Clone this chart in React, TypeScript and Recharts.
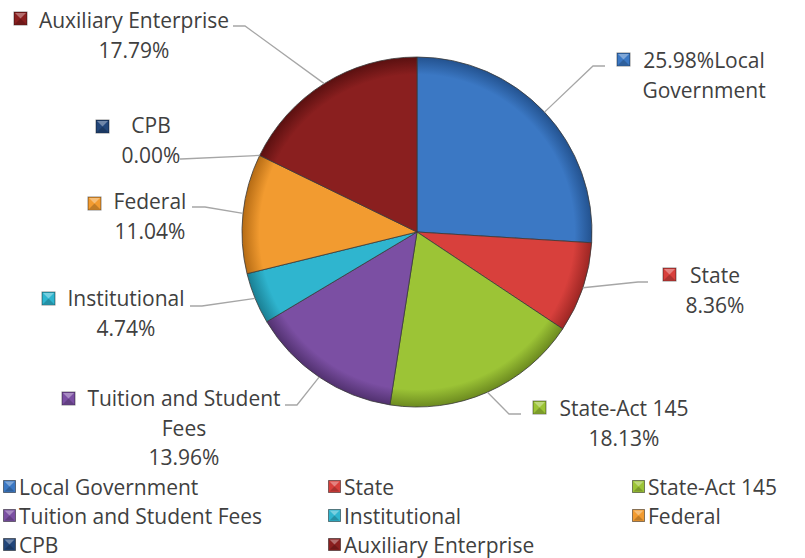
import React from 'react';
import { PieChart, Pie, Cell, Legend } from 'recharts';

const CATEGORIES = [
  'Local Government',
  'State',
  'State-Act 145',
  'Tuition and Student Fees',
  'Institutional',
  'Federal',
  'CPB',
  'Auxiliary Enterprise',
];
const SHARES = [25.98, 8.36, 18.13, 13.96, 4.74, 11.04, 0.0, 17.79];
const COLORS = ['#3b78c4', '#d8403c', '#9cc436', '#7b4fa3', '#2fb5cf', '#f29b30', '#22467a', '#8a1f1f'];
const RIMS = ['#23528f', '#9c2623', '#6c8a1f', '#51316f', '#1a7f93', '#b56b14', '#122a4c', '#5a1010'];

const data = CATEGORIES.map((name, i) => ({ name, value: SHARES[i] }));

const FONT = '"Open Sans", sans-serif';
const FONT_SIZE = 21;
const TEXT_COLOR = '#404040';
const CX = 417;
const CY = 232;
const R = 175;

// label layout: icon position, text centre, first-line y, leader elbow & end
const LABEL_LAYOUT: Record<string, any> = {
  'Local Government': { icon: [617, 53], tx: 704, ty: 60, lines: (p: string) => [p + 'Local', 'Government'], elbow: [593, 66], end: [605, 66] },
  'State': { icon: [663, 268], tx: 715, ty: 275, lines: (p: string) => ['State', p], elbow: [638, 282], end: [648, 282] },
  'State-Act 145': { icon: [533, 401], tx: 624, ty: 408, lines: (p: string) => ['State-Act 145', p], elbow: [509, 414], end: [521, 414] },
  'Tuition and Student Fees': { icon: [62, 392], tx: 184, ty: 398, lines: (p: string) => ['Tuition and Student', 'Fees', p], elbow: [297, 405], end: [285, 405] },
  'Institutional': { icon: [42, 292], tx: 126, ty: 298, lines: (p: string) => ['Institutional', p], elbow: [202, 306], end: [190, 306] },
  'Federal': { icon: [88, 197], tx: 150, ty: 201, lines: (p: string) => ['Federal', p], elbow: [205, 207], end: [192, 207] },
  'CPB': { icon: [96, 120], tx: 151, ty: 125, lines: (p: string) => ['CPB', p], elbow: [181, 159], end: [180, 159] },
  'Auxiliary Enterprise': { icon: [14, 12], tx: 134, ty: 20, lines: (p: string) => ['Auxiliary Enterprise', p], elbow: [245, 26], end: [233, 26] },
};

const Icon = ({ x, y, color, size = 13 }: { x: number; y: number; color: string; size?: number }) => (
  <g>
    <rect x={x} y={y} width={size} height={size} fill={color} stroke="rgba(0,0,0,0.45)" strokeWidth={1} />
    <polygon
      points={`${x + 1},${y + 1} ${x + size - 1},${y + 1} ${x + size / 2},${y + size / 2}`}
      fill="rgba(255,255,255,0.35)"
    />
    <polygon
      points={`${x + 1},${y + size - 1} ${x + size - 1},${y + size - 1} ${x + size / 2},${y + size / 2}`}
      fill="rgba(0,0,0,0.2)"
    />
  </g>
);

const renderLabel = (props: any) => {
  const { cx, cy, midAngle, outerRadius, name, value, index } = props;
  const L = LABEL_LAYOUT[name];
  if (!L) return null;
  const rad = (Math.PI / 180) * midAngle;
  const sx = cx + outerRadius * Math.cos(rad);
  const sy = cy - outerRadius * Math.sin(rad);
  const pct = Number(value).toFixed(2) + '%';
  const lines: string[] = L.lines(pct);
  return (
    <g key={`lbl-${index}`}>
      <polyline
        points={`${sx},${sy} ${L.elbow[0]},${L.elbow[1]} ${L.end[0]},${L.end[1]}`}
        fill="none"
        stroke="#a6a6a6"
        strokeWidth={1.3}
      />
      <Icon x={L.icon[0]} y={L.icon[1]} color={COLORS[index]} />
      {lines.map((t, k) => (
        <text
          key={k}
          x={L.tx}
          y={L.ty + k * 29.5}
          textAnchor="middle"
          dominantBaseline="central"
          fontFamily={FONT}
          fontSize={FONT_SIZE}
          fill={TEXT_COLOR}
        >
          {t}
        </text>
      ))}
    </g>
  );
};

const LEGEND_COLS = [3, 328, 632];
const LEGEND_ROWS = [487, 516, 545];

const renderLegend = () => (
  <div style={{ position: 'relative', width: 805, height: 86 }}>
    {CATEGORIES.map((name, i) => {
      const col = i % 3;
      const row = Math.floor(i / 3);
      return (
        <div
          key={name}
          style={{
            position: 'absolute',
            left: LEGEND_COLS[col],
            top: LEGEND_ROWS[row] - 472 - 15,
            height: 30,
            display: 'flex',
            alignItems: 'center',
            fontFamily: FONT,
            fontSize: FONT_SIZE,
            color: TEXT_COLOR,
            whiteSpace: 'nowrap',
          }}
        >
          <svg width={14} height={14} style={{ marginRight: 2 }}>
            <Icon x={0.5} y={0.5} size={12} color={COLORS[i]} />
          </svg>
          <span>{name}</span>
        </div>
      );
    })}
  </div>
);

export default function App() {
  return (
    <div style={{ position: 'absolute', left: 0, top: 0, width: 805, height: 558, background: '#fff' }}>
      <PieChart width={805} height={558} margin={{ top: 0, right: 0, bottom: 0, left: 0 }}>
        <defs>
          {COLORS.map((c, i) => (
            <radialGradient key={i} id={`g${i}`} gradientUnits="userSpaceOnUse" cx={CX} cy={CY} r={R}>
              <stop offset="0%" stopColor={c} />
              <stop offset="90%" stopColor={c} />
              <stop offset="100%" stopColor={RIMS[i]} />
            </radialGradient>
          ))}
        </defs>
        <Pie
          data={data}
          dataKey="value"
          nameKey="name"
          cx={CX}
          cy={CY}
          outerRadius={R}
          startAngle={90}
          endAngle={-270}
          isAnimationActive={false}
          label={renderLabel}
          labelLine={false}
          stroke="#3a3a3a"
          strokeWidth={0.8}
        >
          {data.map((d, i) => (
            <Cell key={d.name} fill={`url(#g${i})`} />
          ))}
        </Pie>
        <Legend
          content={renderLegend}
          wrapperStyle={{ position: 'absolute', left: 0, top: 472, width: 805, height: 86 }}
        />
      </PieChart>
    </div>
  );
}
